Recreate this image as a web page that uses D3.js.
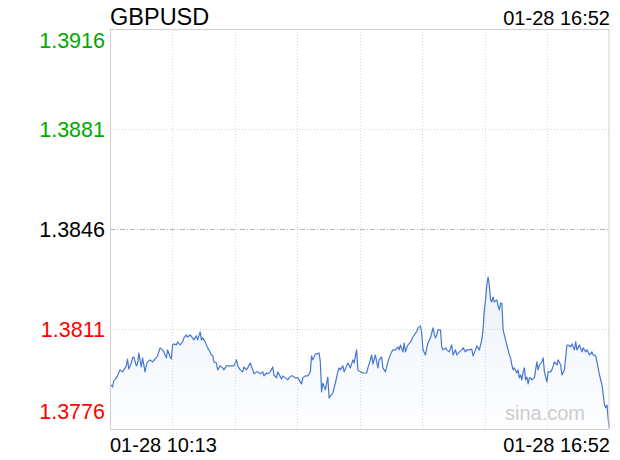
<!DOCTYPE html>
<html><head><meta charset="utf-8">
<script src="https://cdn.jsdelivr.net/npm/d3@7"></script>
<style>
html,body{margin:0;padding:0;background:#fff;}
svg{display:block;font-family:"Liberation Sans",Arial,Helvetica,sans-serif;}
</style></head>
<body><svg id="chart" width="620" height="460"></svg>
<script>
const symbol = "GBPUSD";
const stamp = "01-28 16:52";
const timeLabels = ["01-28 10:13", "01-28 16:52"];
const yTicks = [1.3916, 1.3881, 1.3846, 1.3811, 1.3776];
const prevClose = 1.3846;
const totalMinutes = 399;
const minutes = [0,2,3,5,6,8,10,11,13,14,15,17,18,19,21,22,23,25,26,28,29,30,32,34,36,38,40,42,43,45,46,48,49,50,51,53,54,56,58,59,61,62,64,66,67,69,70,72,73,74,76,78,79,81,82,83,85,86,88,90,91,93,96,99,101,102,104,106,107,109,110,112,114,115,117,118,120,122,123,125,126,128,130,131,133,134,137,138,140,142,143,145,146,148,150,151,153,154,156,158,160,161,162,164,166,167,168,169,170,172,174,175,178,180,182,183,184,186,187,189,190,192,194,195,197,198,200,202,205,206,208,209,210,212,214,215,217,218,220,222,223,225,226,228,230,231,232,234,235,236,237,238,240,241,242,244,245,246,248,249,250,252,253,254,256,258,259,260,261,262,264,265,266,268,269,271,273,274,276,277,279,281,282,284,285,287,289,290,292,293,295,297,298,299,300,301,302,303,304,305,306,307,309,310,311,312,313,314,315,316,317,318,319,320,321,322,323,325,326,327,328,329,330,331,332,333,334,335,336,337,339,341,342,343,345,346,347,349,350,352,353,355,357,358,360,361,363,365,366,368,369,371,372,373,375,377,378,380,381,383,385,386,388,389,391,393,394,395,396,397,398,399];
const prices = [1.37918,1.37907,1.37928,1.37939,1.37946,1.37967,1.37960,1.37967,1.37981,1.38005,1.37970,1.37991,1.38009,1.38012,1.37981,1.37988,1.38026,1.37977,1.38009,1.37960,1.37984,1.37995,1.38002,1.37995,1.38005,1.38016,1.38044,1.38037,1.38030,1.38009,1.38037,1.38012,1.38005,1.38054,1.38058,1.38054,1.38065,1.38054,1.38065,1.38079,1.38089,1.38082,1.38089,1.38079,1.38072,1.38086,1.38072,1.38100,1.38072,1.38079,1.38065,1.38044,1.38037,1.38019,1.38019,1.37995,1.37991,1.37967,1.37981,1.37974,1.37967,1.37981,1.37981,1.37981,1.38002,1.37981,1.37967,1.37960,1.37977,1.37967,1.37974,1.37991,1.37967,1.37953,1.37960,1.37960,1.37953,1.37960,1.37946,1.37956,1.37953,1.37960,1.37977,1.37949,1.37939,1.37960,1.37935,1.37946,1.37939,1.37932,1.37939,1.37946,1.37946,1.37939,1.37939,1.37932,1.37918,1.37939,1.37946,1.37946,1.37960,1.38016,1.38002,1.38023,1.38023,1.38026,1.37995,1.37890,1.37921,1.37897,1.37942,1.37869,1.37886,1.37921,1.37960,1.37974,1.37967,1.37981,1.37960,1.37981,1.37991,1.37974,1.38002,1.37991,1.38037,1.37967,1.37960,1.37956,1.37956,1.37974,1.38002,1.38019,1.37988,1.38019,1.37974,1.38002,1.38012,1.37974,1.37960,1.37995,1.38009,1.38030,1.38037,1.38037,1.38047,1.38037,1.38054,1.38030,1.38061,1.38030,1.38044,1.38054,1.38065,1.38072,1.38082,1.38096,1.38100,1.38114,1.38121,1.38096,1.38037,1.38019,1.38044,1.38061,1.38079,1.38114,1.38093,1.38079,1.38089,1.38107,1.38107,1.38047,1.38037,1.38044,1.38037,1.38030,1.38054,1.38019,1.38037,1.38019,1.38030,1.38037,1.38044,1.38030,1.38037,1.38037,1.38040,1.38016,1.38037,1.38051,1.38037,1.38072,1.38107,1.38177,1.38212,1.38264,1.38292,1.38264,1.38212,1.38205,1.38222,1.38205,1.38212,1.38191,1.38177,1.38201,1.38201,1.38107,1.38089,1.38072,1.38054,1.38037,1.38019,1.38009,1.37984,1.37967,1.37974,1.37956,1.37967,1.37939,1.37949,1.37932,1.37960,1.37974,1.37932,1.37942,1.37918,1.37939,1.37939,1.37932,1.37939,1.37995,1.37967,1.37984,1.37995,1.38009,1.37960,1.37925,1.37960,1.37960,1.37967,1.37995,1.37984,1.38002,1.37984,1.37949,1.37967,1.38054,1.38054,1.38047,1.38058,1.38037,1.38065,1.38037,1.38054,1.38030,1.38044,1.38030,1.38037,1.38019,1.38030,1.38019,1.38016,1.37995,1.37949,1.37914,1.37879,1.37844,1.37834,1.37844,1.37792,1.37764];

const L = 110, R = 609.5, T = 29, B = 429;
const svg = d3.select("#chart");
const x = d3.scaleLinear().domain([0, totalMinutes]).range([L, R]);
const y = d3.scaleLinear().domain([d3.min(yTicks), d3.max(yTicks)]).range([B, T]);
const data = minutes.map((m, i) => ({m, p: prices[i]}));

const defs = svg.append("defs");
const grad = defs.append("linearGradient").attr("id","fillGrad").attr("x1",0).attr("y1",0).attr("x2",0).attr("y2",1);
grad.append("stop").attr("offset","0%").attr("stop-color","#4a7dd2").attr("stop-opacity",0.10);
grad.append("stop").attr("offset","100%").attr("stop-color","#4a7dd2").attr("stop-opacity",0.01);

// vertical grid
const cols = 8;
const vTicks = d3.range(1, cols).map(k => k * totalMinutes / cols);
svg.append("g").selectAll("line").data(vTicks).join("line")
  .attr("x1", d => Math.round(x(d)) + 0.5).attr("x2", d => Math.round(x(d)) + 0.5)
  .attr("y1", T).attr("y2", B)
  .attr("stroke", "#d6d6d6").attr("stroke-width", 1).attr("stroke-dasharray", "1,2");

// horizontal grid
svg.append("g").selectAll("line").data(yTicks.slice(1, -1)).join("line")
  .attr("x1", L).attr("x2", R)
  .attr("y1", d => Math.round(y(d)) + 0.5).attr("y2", d => Math.round(y(d)) + 0.5)
  .attr("stroke", d => d === prevClose ? "#b4b4b4" : "#d6d6d6")
  .attr("stroke-width", 1)
  .attr("stroke-dasharray", d => d === prevClose ? "5,2,1,2" : "1,2");

// area + line
const area = d3.area().x(d => x(d.m)).y0(B).y1(d => y(d.p));
svg.append("path").datum(data).attr("d", area).attr("fill", "url(#fillGrad)");
const line = d3.line().x(d => x(d.m)).y(d => y(d.p));
svg.append("path").datum(data).attr("d", line)
  .attr("fill", "none").attr("stroke", "#4677cf").attr("stroke-width", 1.2)
  .attr("stroke-linejoin", "round");

// frame
svg.append("rect").attr("x", L + 0.5).attr("y", T + 0.5).attr("width", R - L - 1).attr("height", B - T)
  .attr("fill", "none").attr("stroke", "#d0d0d0").attr("stroke-width", 1);

// watermark
svg.append("text").attr("x", 585).attr("y", 420).attr("text-anchor", "end")
  .attr("font-size", 20).attr("fill", "#cccccc").text("sina.com");

// y labels
const colorOf = v => v > prevClose ? "#00a800" : (v < prevClose ? "#ff0000" : "#000000");
svg.append("g").selectAll("text").data(yTicks).join("text")
  .attr("x", 105)
  .attr("y", (d, i) => i === 0 ? y(d) + 19 : (i === yTicks.length - 1 ? y(d) - 10 : y(d) + 8))
  .attr("text-anchor", "end").attr("font-size", 21.5)
  .attr("fill", colorOf).text(d => d.toFixed(4));

// title + stamp
svg.append("text").attr("x", 110).attr("y", 25).attr("font-size", 23.5).attr("fill", "#000").text(symbol);
svg.append("text").attr("x", 610).attr("y", 25).attr("text-anchor", "end").attr("font-size", 20).attr("fill", "#000").text(stamp);

// x labels
svg.append("text").attr("x", 110).attr("y", 452).attr("font-size", 20).attr("fill", "#000").text(timeLabels[0]);
svg.append("text").attr("x", 610).attr("y", 452).attr("text-anchor", "end").attr("font-size", 20).attr("fill", "#000").text(timeLabels[1]);
</script></body></html>
